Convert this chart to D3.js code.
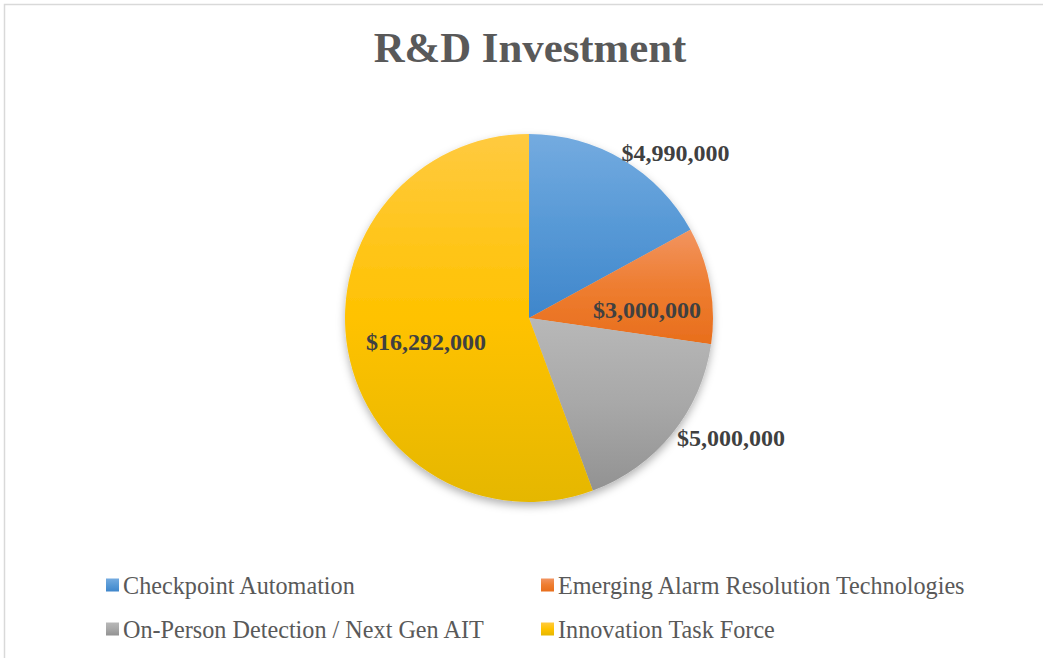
<!DOCTYPE html>
<html>
<head>
<meta charset="utf-8">
<script src="https://cdn.jsdelivr.net/npm/d3@7"></script>
<style>
  html, body { margin: 0; padding: 0; background: #fff; }
  svg { display: block; font-family: "Liberation Serif", "Times New Roman", serif; }
</style>
</head>
<body>
<svg id="chart" width="1043" height="658"></svg>
<script>
// data
const categories = [
  "Checkpoint Automation",
  "Emerging Alarm Resolution Technologies",
  "On-Person Detection / Next Gen AIT",
  "Innovation Task Force"
];
const investment = [4990000, 3000000, 5000000, 16292000];

// gradient stops per slice (top, middle, bottom)
const topColors = ["#74abe0", "#f29460", "#b8b8b8", "#ffca40"];
const baseColors = ["#5799d6", "#ee7d30", "#a8a8a8", "#ffc200"];
const bottomColors = ["#3f86cb", "#e86e1c", "#929292", "#e5b700"];

// where each value label sits: fraction along the slice angle, fraction of radius
const labelAngleFrac = [0.677, 0.67, 0.366, 0.485];
const labelRadiusFrac = [1.2, 0.643, 1.277, 0.575];

const width = 1043, height = 658;
const cx = 529, cy = 318, radius = 184;

const svg = d3.select("#chart");
const defs = svg.append("defs");

topColors.forEach((c, i) => {
  const g = defs.append("linearGradient")
    .attr("id", "grad" + i)
    .attr("x1", 0).attr("y1", 0).attr("x2", 0).attr("y2", 1);
  g.append("stop").attr("offset", "0%").attr("stop-color", c);
  g.append("stop").attr("offset", "50%").attr("stop-color", baseColors[i]);
  g.append("stop").attr("offset", "100%").attr("stop-color", bottomColors[i]);
});

const shadow = defs.append("filter").attr("id", "shadow")
  .attr("x", "-20%").attr("y", "-20%").attr("width", "140%").attr("height", "140%");
shadow.append("feDropShadow")
  .attr("dx", 0).attr("dy", 4).attr("stdDeviation", 4)
  .attr("flood-color", "#000").attr("flood-opacity", 0.3);

// chart frame (only top and left edges fall inside the picture)
svg.append("rect")
  .attr("x", 4.5).attr("y", 4.5)
  .attr("width", width + 20).attr("height", height + 20)
  .attr("fill", "none")
  .attr("stroke", "#d9d9d9")
  .attr("stroke-width", 1.5);

// title
svg.append("text")
  .attr("x", 530).attr("y", 62)
  .attr("text-anchor", "middle")
  .attr("font-size", 42.8)
  .attr("font-weight", "bold")
  .attr("fill", "#595959")
  .text("R&D Investment");

const pie = d3.pie().sort(null).value(d => d);
const arcs = pie(investment);
const arc = d3.arc().innerRadius(0).outerRadius(radius);

const g = svg.append("g").attr("transform", `translate(${cx},${cy})`);

g.append("g").attr("filter", "url(#shadow)")
  .selectAll("path")
  .data(arcs)
  .enter()
  .append("path")
  .attr("d", arc)
  .attr("fill", (d, i) => `url(#grad${i})`);

const fmt = d3.format("$,");

g.selectAll("text.label")
  .data(arcs)
  .enter()
  .append("text")
  .attr("class", "label")
  .attr("transform", (d, i) => {
    const a = d.startAngle + (d.endAngle - d.startAngle) * labelAngleFrac[i];
    const r = radius * labelRadiusFrac[i];
    return `translate(${r * Math.sin(a)},${-r * Math.cos(a)})`;
  })
  .attr("text-anchor", "middle")
  .attr("dominant-baseline", "central")
  .attr("font-size", 24)
  .attr("font-weight", "bold")
  .attr("fill", "#404040")
  .text(d => fmt(d.data));

// legend, two columns
const legendX = [106, 541];
const legendY = [585, 629];

const legend = svg.append("g")
  .selectAll("g")
  .data(categories)
  .enter()
  .append("g")
  .attr("transform", (d, i) => `translate(${legendX[i % 2]},${legendY[Math.floor(i / 2)]})`);

legend.append("rect")
  .attr("x", 0).attr("y", -6.5)
  .attr("width", 13).attr("height", 13)
  .attr("fill", (d, i) => `url(#grad${i})`);

legend.append("text")
  .attr("x", 17).attr("y", 0)
  .attr("dominant-baseline", "central")
  .attr("font-size", 24.2)
  .attr("fill", "#595959")
  .text(d => d);
</script>
</body>
</html>
